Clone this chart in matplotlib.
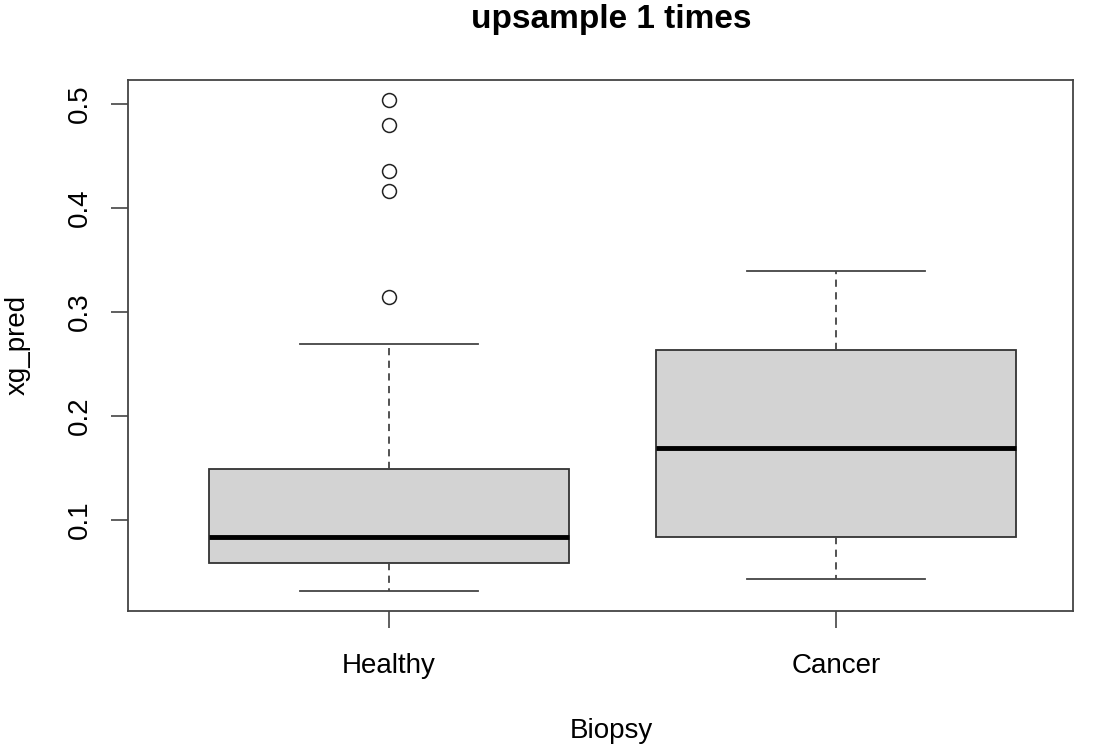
import matplotlib.pyplot as plt

plt.rcParams['font.family'] = ['Liberation Sans', 'DejaVu Sans']

# box statistics
groups = ["Healthy", "Cancer"]
whisker_low = [0.0317, 0.0435]
q1 = [0.0587, 0.0837]
medians = [0.0837, 0.1695]
q3 = [0.1490, 0.2635]
whisker_high = [0.2690, 0.3395]
healthy_outliers = [0.504, 0.480, 0.435, 0.416, 0.314]
cancer_outliers = []
outliers = [healthy_outliers, cancer_outliers]

stats = []
for i, g in enumerate(groups):
    stats.append({
        "label": g,
        "whislo": whisker_low[i],
        "q1": q1[i],
        "med": medians[i],
        "q3": q3[i],
        "whishi": whisker_high[i],
        "fliers": outliers[i],
    })

fig = plt.figure(figsize=(10.96, 7.46), dpi=100)
ax = fig.add_axes([0.1168, 0.181, 0.862, 0.712])

ax.bxp(stats, positions=[1, 2], widths=0.805, patch_artist=True,
       boxprops=dict(facecolor="#d3d3d3", edgecolor="#333333", linewidth=1.3),
       medianprops=dict(color="black", linewidth=3.5),
       whiskerprops=dict(color="#444444", linestyle=(0, (4, 3)), linewidth=1.3),
       capprops=dict(color="#444444", linewidth=1.3),
       capwidths=0.4,
       flierprops=dict(marker="o", markerfacecolor="none", markeredgecolor="#222222",
                       markersize=10, markeredgewidth=1.1))

ax.set_xlim(0.416, 2.530)
ax.set_ylim(0.0125, 0.523)
ax.set_yticks([0.1, 0.2, 0.3, 0.4, 0.5])
ax.set_yticklabels(["0.1", "0.2", "0.3", "0.4", "0.5"], rotation=90, va="center")
ax.set_xticks([1, 2])
ax.set_xticklabels(groups)
ax.tick_params(labelsize=20, length=12, width=1.2, color="#444444")
ax.tick_params(axis="x", pad=18)
ax.tick_params(axis="y", pad=13.5)

for s in ax.spines.values():
    s.set_color("#444444")
    s.set_linewidth(1.3)

ax.set_ylabel("xg_pred", fontsize=20, labelpad=26)
# title and x label sit a little right of the plot centre in the reference
fig.text(611 / 1096, 0.995, "upsample 1 times", ha="center", va="top",
         fontsize=24, fontweight="bold")
fig.text(611 / 1096, 1 - 731 / 746, "Biopsy", ha="center", va="center",
         fontsize=20)

fig.savefig("out.png", dpi=100)
